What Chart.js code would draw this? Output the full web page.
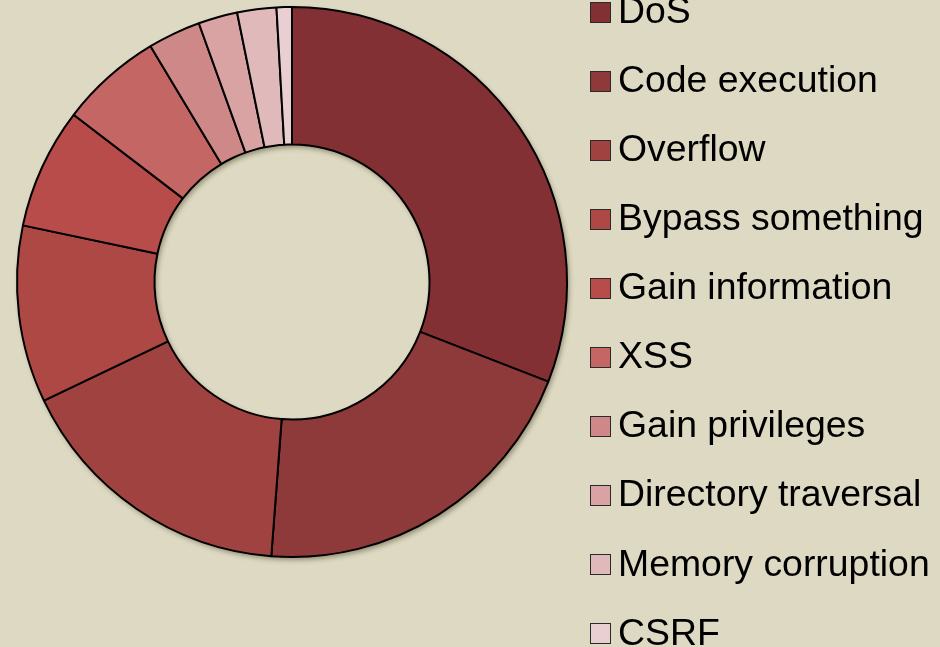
<!DOCTYPE html>
<html>
<head>
<meta charset="utf-8">
<script src="https://cdn.jsdelivr.net/npm/chart.js@4.4.1/dist/chart.umd.min.js"></script>
<style>
  html, body { margin: 0; padding: 0; background: #ddd9c3; overflow: hidden; }
  #wrap { width: 940px; height: 647px; position: relative; }
</style>
</head>
<body>
<div id="wrap"><canvas id="c" width="940" height="647"></canvas></div>
<script>
const categories = ["DoS", "Code execution", "Overflow", "Bypass something", "Gain information",
                    "XSS", "Gain privileges", "Directory traversal", "Memory corruption", "CSRF"];
const shares = [30.9, 20.3, 16.7, 10.4, 7.1, 6.0, 3.1, 2.3, 2.3, 0.9];
const sliceColors = ["#833034", "#8e3a3a", "#a04240", "#ad4845", "#b84c4a",
                     "#c46664", "#ce8887", "#d9a3a3", "#e0babb", "#e9cfd1"];

const ringShadow = {
  id: 'ringShadow',
  beforeDatasetsDraw(chart) {
    const arc = chart.getDatasetMeta(0).data[0];
    if (!arc) return;
    const ctx = chart.ctx;
    ctx.save();
    ctx.shadowColor = 'rgba(60,50,20,0.45)';
    ctx.shadowBlur = 5;
    ctx.shadowOffsetX = 2;
    ctx.shadowOffsetY = 3;
    ctx.beginPath();
    ctx.arc(arc.x, arc.y, arc.outerRadius, 0, Math.PI * 2);
    ctx.arc(arc.x, arc.y, arc.innerRadius, 0, Math.PI * 2, true);
    ctx.fillStyle = '#000';
    ctx.fill('evenodd');
    ctx.restore();
  }
};

const sideLegend = {
  id: 'sideLegend',
  afterDraw(chart) {
    const ctx = chart.ctx;
    const labels = chart.data.labels;
    const colors = chart.data.datasets[0].backgroundColor;
    const x0 = 590.5, firstY = 11.6, step = 69.08, box = 20;
    ctx.save();
    ctx.font = '37.4px "Liberation Sans", Arial, sans-serif';
    ctx.textBaseline = 'middle';
    ctx.textAlign = 'left';
    labels.forEach((lab, i) => {
      const cy = firstY + i * step;
      ctx.fillStyle = colors[i];
      ctx.fillRect(x0, Math.round(cy - box / 2) + 0.5, box, box);
      ctx.strokeStyle = '#2a2a2a';
      ctx.lineWidth = 1;
      ctx.strokeRect(x0, Math.round(cy - box / 2) + 0.5, box, box);
      ctx.fillStyle = '#000';
      ctx.fillText(lab, 618, cy + 1);
    });
    ctx.restore();
  }
};

new Chart(document.getElementById('c'), {
  type: 'doughnut',
  data: {
    labels: categories,
    datasets: [{
      data: shares,
      backgroundColor: sliceColors,
      borderColor: '#000',
      borderWidth: 2,
      hoverOffset: 0
    }]
  },
  options: {
    responsive: false,
    devicePixelRatio: 1,
    animation: false,
    cutout: '50%',
    radius: 275,
    layout: { padding: { left: 17, right: 373, top: 7, bottom: 90 } },
    plugins: {
      legend: { display: false },
      tooltip: { enabled: false }
    }
  },
  plugins: [ringShadow, sideLegend]
});
</script>
</body>
</html>
